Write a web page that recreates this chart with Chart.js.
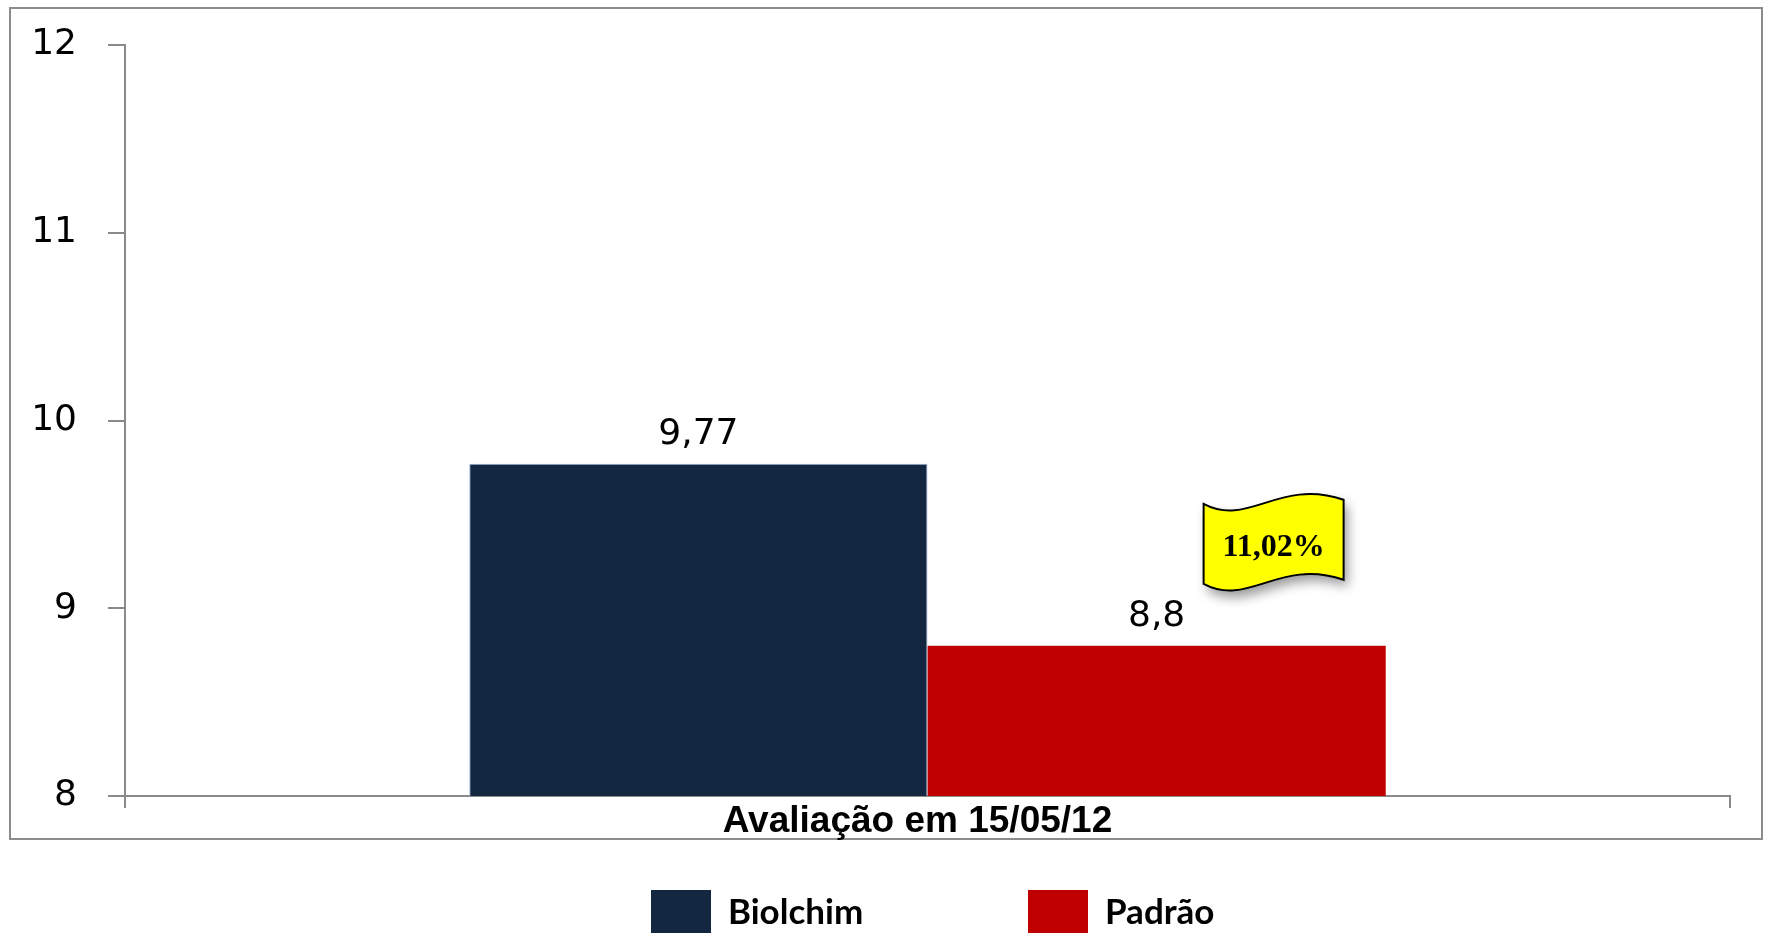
<!DOCTYPE html>
<html lang="pt">
<head>
<meta charset="utf-8">
<title>Avaliação em 15/05/12</title>
<script src="https://cdn.jsdelivr.net/npm/chart.js@4.4.1/dist/chart.umd.min.js"></script>
<style>
  html, body { margin: 0; padding: 0; background: #fff; overflow: hidden; }
  #wrap { position: relative; width: 1770px; height: 933px; }
  #legend { position: absolute; left: 651px; top: 890px; display: flex; }
  .item { width: 377px; display: flex; align-items: flex-start; font-family: Lato, "Open Sans", sans-serif; font-weight: bold; font-size: 35px; color: #000; }
  .item .box { width: 60px; height: 50px; margin-right: 17px; }
  .item span { line-height: 40px; }
</style>
</head>
<body>
<div id="wrap">
  <canvas id="chart"></canvas>
  <div id="legend"></div>
</div>
<script>
// dados
const categories   = ["Avaliação em 15/05/12"];
const seriesNames  = ["Biolchim", "Padrão"];
const biolchimVals = [9.77];
const padraoVals   = [8.8];
const seriesColors = ["#132840", "#C00000"];
const yMin = 8, yMax = 12, yStep = 1;
const calloutText  = "11,02%";

const fmt = v => String(v).replace(".", ",");

// moldura externa
const framePlugin = {
  id: "frame",
  beforeDraw(chart) {
    const ctx = chart.ctx;
    ctx.save();
    ctx.strokeStyle = "#8c8c8c";
    ctx.lineWidth = 2;
    ctx.strokeRect(10, 8, 1752, 831);
    ctx.restore();
  }
};

// rótulos de valor sobre as barras
const valueLabels = {
  id: "valueLabels",
  afterDatasetsDraw(chart) {
    const ctx = chart.ctx;
    ctx.save();
    ctx.font = "36px 'DejaVu Sans'";
    ctx.fillStyle = "#000";
    ctx.textAlign = "center";
    ctx.textBaseline = "alphabetic";
    chart.data.datasets.forEach((ds, i) => {
      chart.getDatasetMeta(i).data.forEach((bar, j) => {
        ctx.fillText(fmt(ds.data[j]), bar.x, bar.y - 20);
      });
    });
    ctx.restore();
  }
};

// bandeirinha amarela com a diferença
const calloutPlugin = {
  id: "callout",
  afterDraw(chart) {
    const bar = chart.getDatasetMeta(1).data[0];
    const cx = bar.x + 117, cy = bar.y - 104;
    const L = cx - 70, R = cx + 70;
    const ctx = chart.ctx;
    const path = () => {
      ctx.beginPath();
      ctx.moveTo(L, cy - 38);
      ctx.bezierCurveTo(L + 45, cy - 14, L + 75, cy - 64, R, cy - 42);
      ctx.lineTo(R, cy + 38);
      ctx.bezierCurveTo(L + 75, cy + 16, L + 45, cy + 66, L, cy + 42);
      ctx.closePath();
    };
    ctx.save();
    path();
    ctx.shadowColor = "rgba(0,0,0,0.4)";
    ctx.shadowBlur = 12;
    ctx.shadowOffsetX = 4;
    ctx.shadowOffsetY = 7;
    ctx.fillStyle = "#FFFF00";
    ctx.fill();
    ctx.shadowColor = "transparent";
    ctx.lineWidth = 2;
    ctx.strokeStyle = "#000";
    ctx.stroke();
    ctx.font = "bold 32px 'Liberation Serif'";
    ctx.fillStyle = "#000";
    ctx.textAlign = "center";
    ctx.textBaseline = "alphabetic";
    ctx.fillText(calloutText, cx, cy + 14);
    ctx.restore();
  }
};

// legenda em HTML
const htmlLegend = {
  id: "htmlLegend",
  afterUpdate(chart) {
    const el = document.getElementById("legend");
    el.innerHTML = "";
    chart.data.datasets.forEach(ds => {
      const item = document.createElement("div");
      item.className = "item";
      const box = document.createElement("div");
      box.className = "box";
      box.style.background = ds.backgroundColor;
      const txt = document.createElement("span");
      txt.textContent = ds.label;
      item.append(box, txt);
      el.append(item);
    });
  }
};

const axisGray = "#8a8a8a";

new Chart(document.getElementById("chart"), {
  type: "bar",
  data: {
    labels: categories,
    datasets: [
      { label: seriesNames[0], data: biolchimVals, backgroundColor: seriesColors[0],
        borderColor: "#95b3d7", borderWidth: 1 },
      { label: seriesNames[1], data: padraoVals, backgroundColor: seriesColors[1], borderWidth: 0 }
    ]
  },
  options: {
    responsive: true,
    maintainAspectRatio: false,
    animation: false,
    barPercentage: 1,
    categoryPercentage: 0.571,
    layout: { padding: { left: 0, right: 40, top: 45, bottom: 0 } },
    plugins: { legend: { display: false }, tooltip: { enabled: false } },
    scales: {
      x: {
        grid: { display: true, drawOnChartArea: false, offset: true, tickLength: 12, color: axisGray, lineWidth: 2 },
        border: { color: axisGray, width: 2 },
        ticks: { color: "#000", padding: -8, labelOffset: -10, font: { family: "'Liberation Sans'", size: 37, weight: "bold" } },
        afterFit(s) { s.height = 137; }
      },
      y: {
        min: yMin, max: yMax,
        grid: { drawOnChartArea: false, tickLength: 17, color: axisGray, lineWidth: 2 },
        border: { color: axisGray, width: 2 },
        ticks: { stepSize: yStep, color: "#000", padding: 31, font: { family: "'DejaVu Sans'", size: 36 } },
        afterFit(s) { s.width = 125; s.paddingTop = 0; s.paddingBottom = 0; }
      }
    }
  },
  plugins: [framePlugin, valueLabels, calloutPlugin, htmlLegend]
});
</script>
</body>
</html>
